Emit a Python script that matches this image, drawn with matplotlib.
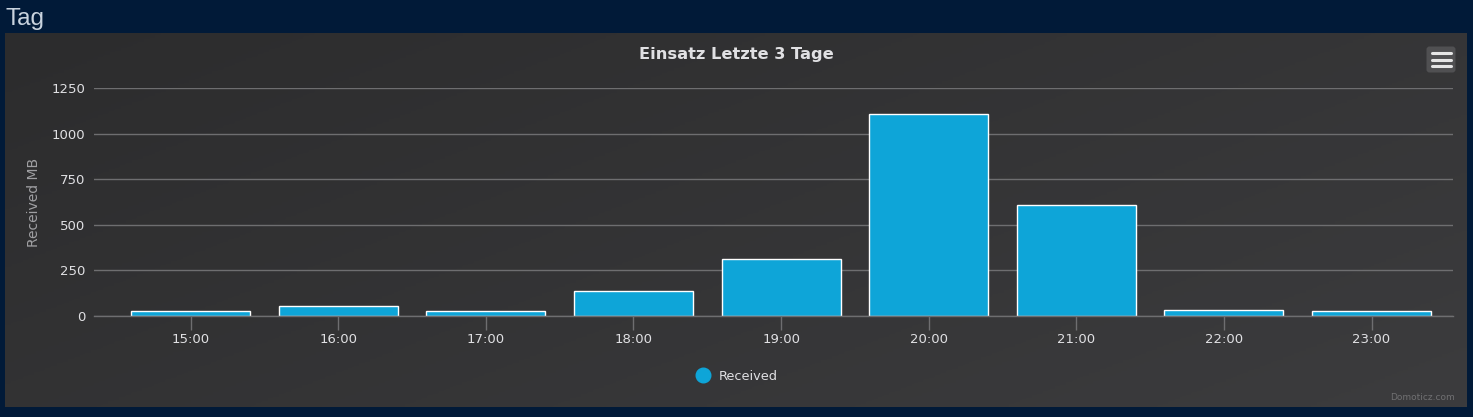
import matplotlib
matplotlib.use('Agg')
import matplotlib.pyplot as plt
import numpy as np
from matplotlib.patches import FancyBboxPatch
from matplotlib.lines import Line2D

# data
hours = ['15:00', '16:00', '17:00', '18:00', '19:00', '20:00', '21:00', '22:00', '23:00']
received = [28, 55, 28, 137, 312, 1107, 608, 33, 27]
yticks = [0, 250, 500, 750, 1000, 1250]

W, H = 1473, 417
OUTER = '#011a38'
BAR = '#0ea5d8'
GRID = '#6e6e70'
TXT = '#e0e0e3'


def px(x0, y0, x1, y1):
    # pixel box (top-left origin) -> figure fraction rect
    return [x0 / W, 1 - y1 / H, (x1 - x0) / W, (y1 - y0) / H]


fig = plt.figure(figsize=(W / 100, H / 100), dpi=100, facecolor=OUTER)

# page title
fig.text(5 / W, 1 - 19 / H, 'Tag', color='#c9d3de', fontsize=17.5,
         va='center', ha='left', family='Liberation Sans')

# chart panel with dark gradient
bg = fig.add_axes(px(5, 33, 1467, 407))
grad = np.linspace(0, 1, 256)
gx, gy = np.meshgrid(grad, grad)
g = (gx * 0.6 + gy * 0.4)
bg.imshow(g, cmap=matplotlib.colors.LinearSegmentedColormap.from_list(
    'p', ['#2c2c2d', '#3c3c3e']), aspect='auto', extent=[0, 1, 0, 1], origin='upper')
bg.set_xlim(0, 1)
bg.set_ylim(0, 1)
bg.axis('off')

# menu button
btn = fig.add_axes(px(1426, 46, 1456, 73))
btn.set_xlim(0, 30)
btn.set_ylim(27, 0)
btn.axis('off')
btn.add_patch(FancyBboxPatch((0.5, 0.5), 29, 26, boxstyle='round,pad=0,rounding_size=3',
                             facecolor='#505052', edgecolor='none'))
for yy in (7.3, 13.5, 19.7):
    btn.plot([5.5, 24.5], [yy, yy], color='#e6e6e6', lw=2.2, solid_capstyle='round')

# main plot
ax = fig.add_axes(px(94, 88, 1453, 316))
ax.set_facecolor('none')
x = np.arange(len(hours))
ax.bar(x, received, width=0.806, color=BAR, edgecolor='white', linewidth=1, zorder=3)
ax.set_xlim(-0.655, 8.552)
ax.set_ylim(0, 1250)
ax.set_yticks(yticks)
ax.set_yticklabels([str(v) for v in yticks])
ax.grid(axis='y', color=GRID, linewidth=1, zorder=0)
ax.set_axisbelow(True)
for s in ('top', 'right', 'left'):
    ax.spines[s].set_visible(False)
ax.spines['bottom'].set_color(GRID)
ax.spines['bottom'].set_linewidth(1)
ax.spines['bottom'].set_zorder(4)
ax.set_xticks(x)
ax.set_xticklabels(hours)
ax.tick_params(axis='x', colors=GRID, length=10, width=1, pad=2, labelcolor=TXT, labelsize=9.5)
ax.tick_params(axis='y', length=0, pad=6, labelcolor=TXT, labelsize=9.5)
ax.set_ylabel('Received MB', color='#a0a0a3', fontsize=10, labelpad=14)
ax.yaxis.set_label_coords(-53 / 1359, 0.5)

# title
fig.text(736 / W, 1 - 54 / H, 'Einsatz Letzte 3 Tage', color=TXT, fontsize=11.7,
         fontweight='bold', ha='center', va='center')

# legend
fig.add_artist(Line2D([703 / W], [1 - 375 / H], marker='o', markersize=10.5,
                      color=BAR, linestyle='none', transform=fig.transFigure))
fig.text(719 / W, 1 - 376 / H, 'Received', color=TXT, fontsize=9.3, ha='left', va='center')

# credits
fig.text(1455 / W, 1 - 398 / H, 'Domoticz.com', color='#707072', fontsize=6.5,
         ha='right', va='center')

fig.savefig('out.png', dpi=100, facecolor=OUTER)
